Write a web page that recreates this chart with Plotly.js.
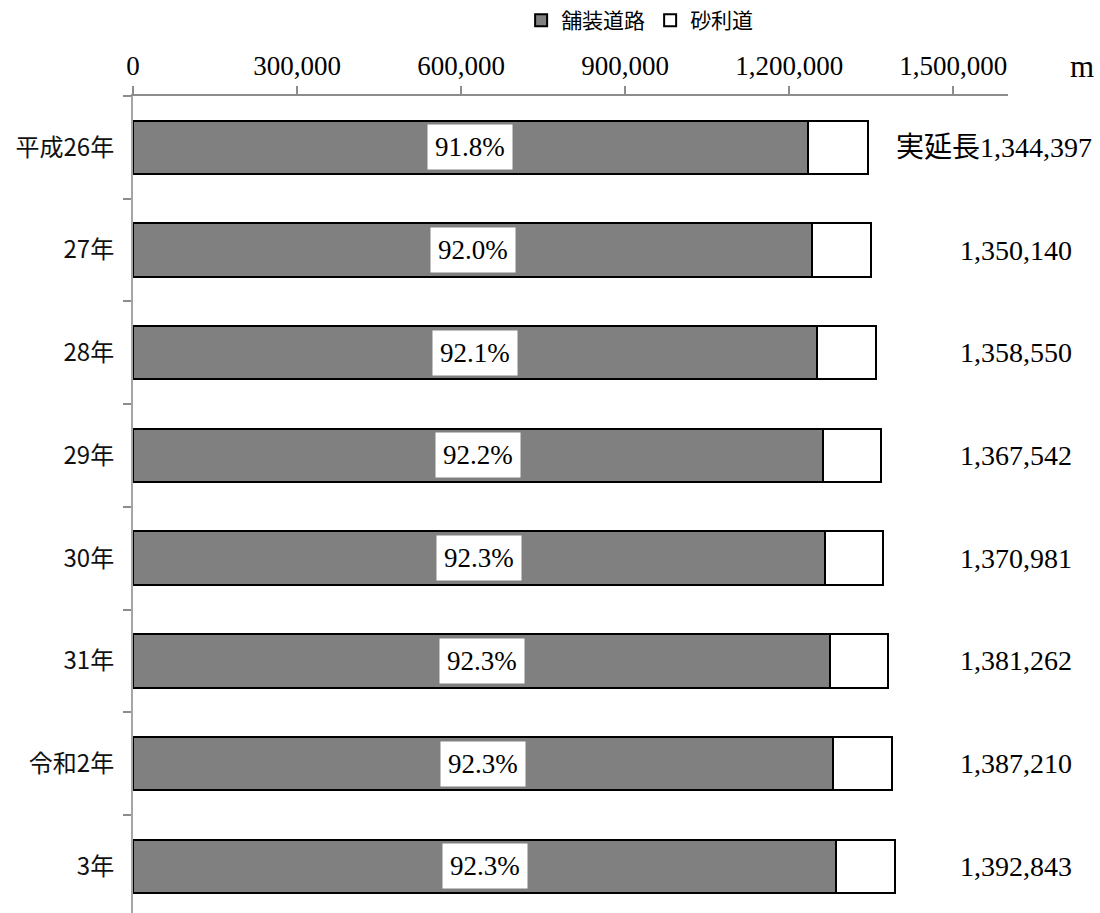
<!DOCTYPE html>
<html>
<head>
<meta charset="utf-8">
<script src="https://cdn.plot.ly/plotly-3.0.1.min.js"></script>
<style>
html,body{margin:0;padding:0;background:#fff;}
#chart{width:1100px;height:913px;}
</style>
</head>
<body>
<div id="chart"></div>
<script>
// Data
const categories = ["平成26年", "27年", "28年", "29年", "30年", "31年", "令和2年", "3年"];
const paved  = [1234156, 1242129, 1251225, 1260874, 1265415, 1274905, 1280395, 1285594];
const gravel = [110241, 108011, 107325, 106668, 105566, 106357, 106815, 107249];
const totalLabels = ["実延長1,344,397", "1,350,140", "1,358,550", "1,367,542", "1,370,981", "1,381,262", "1,387,210", "1,392,843"];
const pctLabels = ["91.8%", "92.0%", "92.1%", "92.2%", "92.3%", "92.3%", "92.3%", "92.3%"];
const tickValues = [0, 300000, 600000, 900000, 1200000, 1500000];
const seriesNames = ["舗装道路", "砂利道"];

const serif = "Liberation Serif, Noto Sans CJK JP, serif";
const sans = "Noto Sans CJK JP, sans-serif";

const traces = [
  {
    type: "bar", orientation: "h", name: seriesNames[0],
    y: categories, x: paved, width: 0.52,
    marker: {color: "#808080", line: {color: "#000", width: 2}},
    hoverinfo: "skip"
  },
  {
    type: "bar", orientation: "h", name: seriesNames[1],
    y: categories, x: gravel, width: 0.52,
    marker: {color: "#ffffff", line: {color: "#000", width: 2}},
    hoverinfo: "skip"
  }
];

const annotations = [];
categories.forEach((c, i) => {
  annotations.push({
    xref: "x", yref: "y", x: paved[i] / 2, y: c,
    text: pctLabels[i], showarrow: false,
    bgcolor: "#ffffff", borderpad: 7,
    font: {family: serif, size: 27, color: "#000"}
  });
  annotations.push({
    xref: "paper", yref: "y", x: i === 0 ? 0.984 : 1.009, y: c,
    xanchor: "center", text: totalLabels[i], showarrow: false,
    font: {family: serif, size: 28, color: "#000"}
  });
});
annotations.push({
  xref: "paper", yref: "paper", x: 1.0846, y: 1.0355,
  xanchor: "center", yanchor: "middle", text: "m", showarrow: false,
  font: {family: "Liberation Serif, serif", size: 31, color: "#000"}
});

const layout = {
  width: 1100, height: 913,
  margin: {l: 133, r: 92, t: 96, b: 0, pad: 0},
  paper_bgcolor: "#fff", plot_bgcolor: "#fff",
  barmode: "stack",
  showlegend: true,
  legend: {
    orientation: "h", x: 0.579, xanchor: "center", y: 1.118, yanchor: "top",
    font: {family: sans, size: 21, color: "#000"},
    itemwidth: 30, traceorder: "normal", tracegroupgap: 0
  },
  xaxis: {
    side: "top", range: [0, 1600000],
    tickvals: tickValues, tickformat: ",d",
    showgrid: false, zeroline: false,
    showline: true, linecolor: "#8c8c8c", linewidth: 2,
    ticks: "outside", ticklen: 8, tickcolor: "#8c8c8c", tickwidth: 2,
    tickfont: {family: serif, size: 27, color: "#000"}
  },
  yaxis: {
    type: "category", range: [7.455, -0.5],
    showgrid: false, zeroline: false,
    showline: true, linecolor: "#a6a6a6", linewidth: 2,
    ticks: "outside", ticklen: 8, tickcolor: "#8c8c8c", tickwidth: 2,
    tickson: "boundaries", ticklabelstandoff: 12,
    tickfont: {family: sans, size: 24, color: "#111"}
  },
  separators: ".,",
  annotations: annotations
};

Plotly.newPlot("chart", traces, layout, {staticPlot: true});
</script>
</body>
</html>
